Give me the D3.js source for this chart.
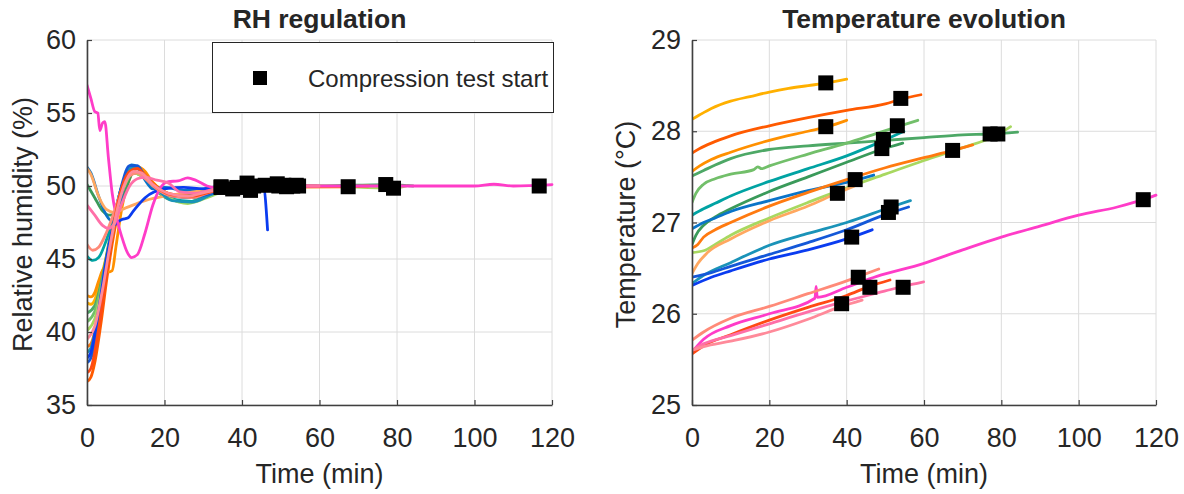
<!DOCTYPE html>
<html><head><meta charset="utf-8">
<script src="https://cdn.jsdelivr.net/npm/d3@7"></script>
<style>
body{margin:0;background:#fff}
text{font-family:"Liberation Sans",Arial,Helvetica,sans-serif;fill:#262626}
</style>
</head><body>
<svg id="c" width="1184" height="494"></svg>
<script>
// ---------- data ----------
const seriesColors = ["#FFB000","#FF5A00","#FF9000","#4DA866","#72BF6A","#00A3A3","#3A9A5A","#A8D860","#0A74C8","#FF7A10","#FFA860","#1A93B8","#1458D8","#0A3CF0","#FF3CC8","#FF8A78","#FF4A14","#FF6FA8","#FF8A9A"];
const markerTimes = [34.6,54,34.6,77.1,53.1,49.5,49.1,79.1,42.2,67.4,37.6,51.5,50.8,41.3,116.7,43,46,54.6,38.7];
const markerTemp  = [28.53,28.36,28.05,27.97,28.06,27.91,27.81,27.97,27.47,27.79,27.32,27.17,27.11,26.84,27.25,26.40,26.29,26.29,26.11];
const markerRH    = [49.9,50.05,49.95,50.1,50.0,50.0,50.15,49.85,49.7,49.95,49.8,49.95,50.05,50.2,50.0,50.0,50.05,50.0,49.9];
const timeTicks = [0,20,40,60,80,100,120];
const rhTicks = [35,40,45,50,55,60];
const tempTicks = [25,26,27,28,29];

const rhSeries = [
 [[0,42.0],[1,41.9],[2,42.2],[3,43.1],[5,45.2],[7,47.6],[9,49.7],[11,50.9],[13,51.2],[15,50.8],[18,50.0],[22,49.4],[27,49.3],[32,49.7],[34.6,49.9],[40,50.0]],
 [[0,36.6],[1,36.9],[2,37.9],[3.5,40.4],[5.2,43.8],[7,46.8],[8.7,49.0],[10.5,50.6],[12,51.2],[14,51.1],[17,50.2],[21,49.5],[26,49.3],[31,49.6],[36,49.9],[54,50.05],[59.2,50.0]],
 [[0,42.5],[1,42.4],[2,42.7],[3,43.5],[4.5,44.4],[5.5,44.1],[6.5,44.2],[7.5,45.9],[9,48.5],[11,50.5],[13,51.3],[15,51.0],[17,50.2],[20,49.5],[25,49.3],[30,49.6],[34.6,49.95],[40,50.0]],
 [[0,41.3],[2,41.8],[4,43.8],[6,46.6],[8,48.9],[10,50.4],[12,50.9],[14,50.7],[17,49.9],[21,49.1],[26,48.9],[31,49.3],[36,49.8],[45,50.0],[60,50.0],[77.1,50.1],[84.2,50.0]],
 [[0,40.7],[2,41.4],[4,43.6],[6,46.4],[8,48.8],[10,50.3],[12,50.9],[14,50.8],[17,50.0],[21,49.2],[26,48.9],[31,49.3],[36,49.8],[45,50.0],[53.1,50.0],[58.4,50.0]],
 [[0,45.2],[1.5,44.9],[3,45.1],[5,46.3],[7,48.0],[9,50.0],[11,51.1],[13,51.2],[15,50.5],[18,49.7],[22,49.1],[27,48.95],[32,49.5],[38,49.9],[49.5,50.0],[54.8,50.0]],
 [[0,50.1],[2,49.2],[4,48.3],[6,48.0],[8,48.5],[10,49.8],[12,50.9],[14,50.9],[16,50.2],[19,49.6],[25,49.3],[30,49.6],[35,49.95],[49.1,50.15],[54.5,50.0]],
 [[0,40.1],[2,40.9],[4,43.2],[6,46.0],[8,48.6],[10,50.2],[12,50.9],[14,50.7],[17,49.9],[21,49.2],[26,48.8],[31,49.2],[36,49.7],[45,50.0],[60,50.0],[79.1,49.85],[82.4,50.0]],
 [[0,51.3],[1,50.9],[3,49.3],[5,48.0],[6.5,47.6],[8,48.3],[10,50.6],[11.5,51.45],[13,51.3],[15,50.4],[17,49.8],[20,49.9],[25,49.7],[30,49.8],[35,50.0],[42.2,49.7],[47,50.0]],
 [[0,39.0],[1,39.2],[3,41.3],[5,44.5],[7,47.6],[9,49.9],[11,51.0],[13,51.3],[15,50.8],[18,49.9],[22,49.3],[27,49.2],[32,49.6],[38,49.9],[67.4,49.95],[72.6,50.0]],
 [[0,51.2],[1,50.8],[3,49.3],[5,48.4],[7,48.2],[10,48.5],[15,49.0],[20,49.3],[25,49.5],[30,49.7],[35,49.9],[37.6,49.8],[42,50.0]],
 [[0,38.6],[1,38.9],[3,41.3],[5,44.6],[7,47.8],[9,50.0],[11,51.2],[13,51.3],[15,50.6],[18,49.8],[22,49.0],[27,48.9],[32,49.4],[38,49.9],[51.5,49.95],[56.5,50.0]],
 [[0,37.9],[1,38.2],[3,40.6],[5,44.2],[7,47.6],[9,50.1],[11,51.4],[13,51.4],[15,50.6],[18,49.8],[22,49.3],[27,49.2],[32,49.5],[38,49.9],[50.8,50.05],[56,50.0]],
 [[0,38.2],[1,38.6],[3,41.5],[5,45.0],[7,47.3],[9,47.7],[10.5,47.8],[12,48.3],[15,49.2],[20,49.8],[25,49.9],[30,49.8],[35,49.9],[41.3,50.2],[45.5,50.0],[46.6,47.0]],
 [[0,56.9],[1,56.0],[2,55.1],[2.8,55.0],[3.3,53.8],[4,54.3],[4.6,54.4],[5.5,52.0],[6.5,49.5],[7.5,48.0],[9,46.5],[10.5,45.4],[11.5,45.1],[13,45.3],[15,46.8],[17,48.7],[19,49.9],[21,50.3],[23.5,50.35],[26,50.55],[28,50.4],[31,50.0],[35,49.8],[38,49.6],[40,49.7],[43,50.0],[60,50.0],[80,50.0],[100,50.0],[105,50.12],[110,50.0],[120,50.1]],
 [[0,46.0],[1.5,45.6],[3,45.8],[5,46.8],[7,48.2],[9,49.8],[11,50.7],[13,50.9],[15,50.5],[18,49.8],[22,49.3],[27,49.2],[32,49.6],[38,49.9],[43,50.0],[48.3,50.0]],
 [[0,37.2],[1,37.5],[3,40.2],[5,44.0],[7,47.5],[9,49.9],[11,51.0],[13,51.2],[15,50.7],[18,49.9],[22,49.4],[27,49.3],[32,49.6],[38,49.9],[46,50.05],[51.2,50.0]],
 [[0,48.7],[2,48.0],[4,47.3],[5.5,47.1],[7,47.4],[9,48.8],[11,50.0],[13,50.5],[15,50.6],[18,50.4],[21,50.2],[24,49.6],[28,49.5],[33,49.8],[40,50.0],[54.6,50.0],[59.9,50.0]],
 [[0,39.5],[2,40.4],[4,42.9],[6,46.0],[8,48.6],[10,50.3],[12,51.0],[14,50.9],[17,50.1],[21,49.5],[26,49.3],[31,49.6],[38.7,49.9],[44,50.0]]
];

const tempSeries = [
 [[0,28.13],[2,28.18],[5,28.25],[10,28.33],[15,28.38],[20,28.43],[25,28.47],[30,28.5],[35,28.53],[40,28.57]],
 [[0,27.76],[2,27.81],[5,27.87],[10,27.95],[20,28.06],[30,28.15],[40,28.23],[50,28.3],[54,28.35],[59.2,28.4]],
 [[0,27.56],[2,27.62],[5,27.69],[10,27.77],[20,27.9],[30,28.0],[35,28.05],[40,28.12]],
 [[0,27.51],[3,27.57],[6,27.63],[10,27.7],[20,27.8],[30,27.84],[40,27.87],[50,27.9],[60,27.93],[70,27.96],[77,27.97],[84.2,27.99]],
 [[0,27.22],[1,27.32],[3,27.42],[6,27.48],[10,27.53],[16,27.58],[17,27.61],[18,27.59],[20,27.62],[30,27.75],[40,27.87],[48,27.98],[53.2,28.05],[58.4,28.12]],
 [[0,27.08],[3,27.15],[6,27.21],[10,27.29],[20,27.45],[30,27.59],[40,27.73],[49.6,27.9],[54.8,28.0]],
 [[0,26.76],[1,26.86],[3,26.97],[6,27.06],[10,27.15],[20,27.34],[30,27.5],[40,27.66],[49,27.8],[54.5,27.87]],
 [[0,26.67],[3,26.69],[6,26.76],[10,26.86],[20,27.05],[30,27.22],[40,27.38],[50,27.53],[60,27.68],[70,27.82],[79,27.96],[82.4,28.05]],
 [[0,26.93],[3,27.0],[6,27.05],[10,27.12],[20,27.24],[30,27.35],[40,27.44],[42,27.46],[47,27.52]],
 [[0,26.72],[1.5,26.76],[3,26.84],[6,26.92],[10,27.0],[20,27.18],[30,27.33],[40,27.47],[50,27.6],[60,27.71],[67.5,27.79],[72.6,27.85]],
 [[0,26.44],[1.5,26.55],[4,26.67],[10,26.82],[20,27.02],[30,27.18],[37.5,27.32],[42,27.4]],
 [[0,26.33],[3,26.42],[10,26.56],[20,26.75],[30,26.88],[40,27.0],[51.5,27.17],[56.5,27.24]],
 [[0,26.4],[5,26.45],[10,26.52],[20,26.65],[30,26.78],[40,26.92],[50.8,27.1],[56,27.17]],
 [[0,26.31],[5,26.4],[10,26.47],[20,26.6],[30,26.7],[40,26.82],[46.6,26.92]],
 [[0,25.58],[3,25.72],[10,25.87],[20,26.0],[31.8,26.17],[32.1,26.3],[32.4,26.18],[40,26.29],[47.8,26.41],[59.8,26.55],[70,26.7],[80,26.84],[90,26.96],[100,27.08],[110,27.17],[116.7,27.25],[120,27.3]],
 [[0,25.71],[3,25.8],[10,25.95],[20,26.08],[30,26.22],[40,26.36],[43.2,26.41],[48.3,26.49]],
 [[0,25.56],[3,25.65],[10,25.77],[20,25.93],[30,26.07],[40,26.2],[45.9,26.3],[51.2,26.37]],
 [[0,25.6],[3,25.67],[10,25.76],[20,25.89],[30,26.02],[40,26.14],[50,26.25],[54.6,26.3],[59.9,26.35]],
 [[0,25.6],[3,25.64],[10,25.7],[20,25.8],[30,25.94],[38.6,26.08],[44,26.15]]
];

// ---------- drawing ----------
const svg = d3.select("#c");
const FS = 27;

function panel(cfg){
  const x = d3.scaleLinear().domain([0,120]).range([cfg.x0, cfg.x1]);
  const y = d3.scaleLinear().domain(cfg.yDomain).range([cfg.y1, cfg.y0]);
  const g = svg.append("g");
  // grid
  g.append("g").selectAll("line").data(timeTicks).join("line")
    .attr("x1",d=>x(d)).attr("x2",d=>x(d)).attr("y1",cfg.y0).attr("y2",cfg.y1)
    .attr("stroke","#dcdcdc").attr("stroke-width",1);
  g.append("g").selectAll("line").data(cfg.yTicks).join("line")
    .attr("y1",d=>y(d)).attr("y2",d=>y(d)).attr("x1",cfg.x0).attr("x2",cfg.x1)
    .attr("stroke","#dcdcdc").attr("stroke-width",1);
  // lines
  const clipId = "clip"+cfg.id;
  svg.append("clipPath").attr("id",clipId).append("rect")
    .attr("x",cfg.x0).attr("y",cfg.y0-8).attr("width",cfg.x1-cfg.x0+8).attr("height",cfg.y1-cfg.y0+8);
  const line = d3.line().x(d=>x(d[0])).y(d=>y(d[1])).curve(d3.curveMonotoneX);
  const lg = g.append("g").attr("clip-path",`url(#${clipId})`);
  lg.selectAll("path").data(cfg.series).join("path")
    .attr("d",line).attr("fill","none")
    .attr("stroke",(d,i)=>seriesColors[i]).attr("stroke-width",2.8)
    .attr("stroke-linejoin","round").attr("stroke-linecap","round");
  // markers
  const ms = 15;
  lg.selectAll("rect.m").data(markerTimes).join("rect").attr("class","m")
    .attr("x",(d)=>x(d)-ms/2).attr("y",(d,i)=>y(cfg.markerY[i])-ms/2)
    .attr("width",ms).attr("height",ms).attr("fill","#000");
  // axes
  const xa = g.append("g").attr("transform",`translate(0,${cfg.y1})`)
    .call(d3.axisBottom(x).tickValues(timeTicks).tickFormat(d3.format("d")).tickSizeInner(-5).tickSizeOuter(0).tickPadding(23));
  const ya = g.append("g").attr("transform",`translate(${cfg.x0},0)`)
    .call(d3.axisLeft(y).tickValues(cfg.yTicks).tickFormat(d3.format("d")).tickSizeInner(-5).tickSizeOuter(0).tickPadding(11));
  [xa,ya].forEach(a=>{
    a.select(".domain").attr("stroke","#404040").attr("stroke-width",1.6);
    a.selectAll(".tick line").attr("stroke","#404040").attr("stroke-width",1.2);
    a.selectAll(".tick text").attr("font-size",FS).attr("font-family","Liberation Sans, Arial, sans-serif").attr("fill","#262626");
  });
  // labels
  const cx = (cfg.x0+cfg.x1)/2;
  g.append("text").attr("x",cx).attr("y",28).attr("text-anchor","middle")
    .attr("font-size",26.5).attr("font-weight","bold").attr("fill","#000").text(cfg.title);
  g.append("text").attr("x",cx).attr("y",483).attr("text-anchor","middle")
    .attr("font-size",FS).text("Time (min)");
  g.append("text").attr("transform",`translate(${cfg.ylx},${(cfg.y0+cfg.y1)/2+2}) rotate(-90)`)
    .attr("text-anchor","middle").attr("font-size",FS).text(cfg.ylabel);
  return {x,y,g};
}

panel({id:"rh", x0:87, x1:552, y0:40, y1:405, yDomain:[35,60], yTicks:rhTicks,
  series:rhSeries, markerY:markerRH, title:"RH regulation", ylabel:"Relative humidity (%)", ylx:32});
panel({id:"t", x0:692, x1:1156, y0:40, y1:405, yDomain:[25,29], yTicks:tempTicks,
  series:tempSeries, markerY:markerTemp, title:"Temperature evolution", ylabel:"Temperature (°C)", ylx:635});

// legend
const leg = svg.append("g");
leg.append("rect").attr("x",212.5).attr("y",42.5).attr("width",341).attr("height",70)
  .attr("fill","#fff").attr("stroke","#262626").attr("stroke-width",1);
leg.append("rect").attr("x",253).attr("y",71).attr("width",14).attr("height",14).attr("fill","#000");
leg.append("text").attr("x",308).attr("y",87).attr("font-size",24).attr("fill","#000").text("Compression test start");
</script>
</body></html>
